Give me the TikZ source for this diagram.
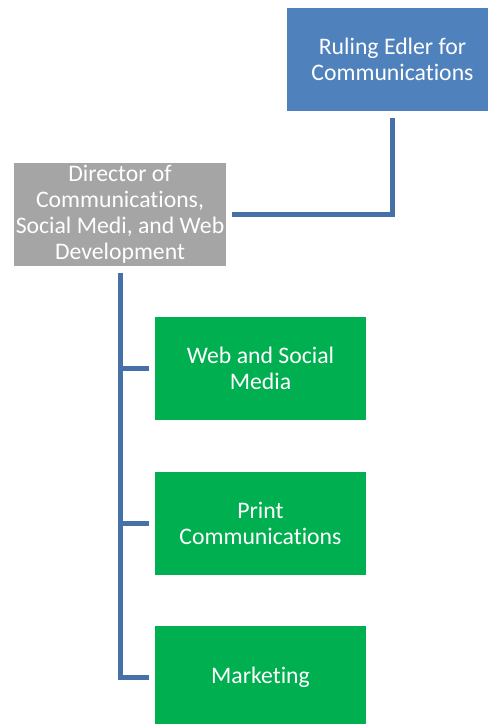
\documentclass[tikz,border=0pt]{standalone}
\usepackage{fontspec}
\setmainfont{Carlito}[Ligatures = {NoCommon, NoRare}]

\definecolor{elderblue}{HTML}{4F81BD}
\definecolor{directorgray}{HTML}{A5A5A5}
\definecolor{teamgreen}{HTML}{00B050}
\definecolor{linkblue}{HTML}{4571A8}

\begin{document}
\begin{tikzpicture}[
	unit/.style = {minimum width = 4.22cm, minimum height = 2.06cm, inner sep = 0pt,
		text = white, align = center, font = \fontsize{13.5}{14.8}\selectfont},
	link/.style = {draw = linkblue, line width = 0.1cm, shorten <= 0.13cm, shorten >= 0.12cm}
	]
		
		\clip (0,0) rectangle (9.76,-14.48);
		
		\node[unit, fill = elderblue] (R) at (7.85,-1.19) {Ruling Edler for\\Communications};
		\node[unit, fill = directorgray] (D) at (2.4,-4.29) {Director of\\Communications,\\Social Medi, and Web\\Development};
		
		\node[unit, fill = teamgreen] (W) at (5.21,-7.37) {Web and Social\\Media};
		\node[unit, fill = teamgreen] (P) at (5.21,-10.46) {Print\\Communications};
		\node[unit, fill = teamgreen] (M) at (5.21,-13.55) {Marketing};
		
		\draw[link] (R.south) |- (D.east);
		\draw[link] (D.south) |- (W.west);
		\draw[link] (D.south) |- (P.west);
		\draw[link] (D.south) |- (M.west);
		
	\end{tikzpicture}
\end{document}
